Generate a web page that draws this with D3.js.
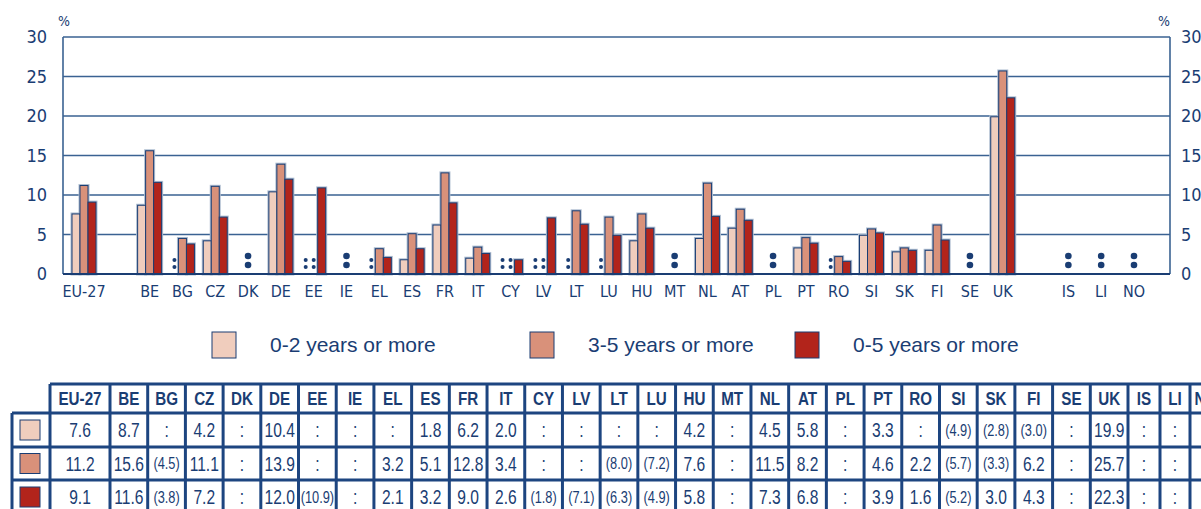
<!DOCTYPE html>
<html lang="en">
<head>
<meta charset="UTF-8">
<title>Childcare by age group</title>
<style>
  body {margin: 0; background: #fff;}
  text {fill: #1a3d73;}
  .tick-label {font-family: "DejaVu Sans Condensed", sans-serif; font-size: 18px;}
  .cat-label {font-family: "DejaVu Sans Condensed", sans-serif; font-size: 16px;}
  .legend-label {font-family: "Liberation Sans", Arial, sans-serif; font-size: 21px;}
  .cell {font-family: "Liberation Sans", Arial, sans-serif; font-size: 19.5px;}
  .cell.small {font-size: 16px;}
  .head {font-family: "Liberation Sans", Arial, sans-serif; font-size: 19px; font-weight: bold;}
</style>
</head>
<body>
<svg id="chart" width="1201" height="509"></svg>
<script src="https://d3js.org/d3.v7.min.js"></script>
<script>

var countries = ["EU-27","BE","BG","CZ","DK","DE","EE","IE","EL","ES","FR","IT","CY","LV","LT","LU",
                 "HU","MT","NL","AT","PL","PT","RO","SI","SK","FI","SE","UK","IS","LI","NO"];

// null = not available (":")
var v02 = [7.6, 8.7, null, 4.2, null, 10.4, null, null, null, 1.8, 6.2, 2.0, null, null, null, null,
           4.2, null, 4.5, 5.8, null, 3.3, null, 4.9, 2.8, 3.0, null, 19.9, null, null, null];
var v35 = [11.2, 15.6, 4.5, 11.1, null, 13.9, null, null, 3.2, 5.1, 12.8, 3.4, null, null, 8.0, 7.2,
           7.6, null, 11.5, 8.2, null, 4.6, 2.2, 5.7, 3.3, 6.2, null, 25.7, null, null, null];
var v05 = [9.1, 11.6, 3.8, 7.2, null, 12.0, 10.9, null, 2.1, 3.2, 9.0, 2.6, 1.8, 7.1, 6.3, 4.9,
           5.8, null, 7.3, 6.8, null, 3.9, 1.6, 5.2, 3.0, 4.3, null, 22.3, null, null, null];

// values shown in brackets in the table (low reliability)
var br02 = ["SI","SK","FI"];
var br35 = ["BG","LT","LU","SI","SK"];
var br05 = ["BG","EE","CY","LV","LT","LU","SI"];

var seriesNames = ["0-2 years or more", "3-5 years or more", "0-5 years or more"];
var colors = ["#f0cdbd", "#d9917a", "#b2241b"];
var yTicks = [0, 5, 10, 15, 20, 25, 30];

// slots along the x axis, with blank gaps after EU-27 and before the EFTA countries
var slots = ["EU-27", "gap1"].concat(countries.slice(1, 28), ["gap2"], countries.slice(28));

var series = [v02, v35, v05];
var brackets = [br02, br35, br05];

var navy = "#1a3d73";
var svg = d3.select("#chart");

var plotL = 63, plotR = 1170, plotT = 37, plotB = 274;

var y = d3.scaleLinear().domain([0, 30]).range([plotB, plotT]);
var x = d3.scalePoint().domain(slots).range([84, 1134]);
var barW = 8;
var offs = [-12, -4, 4];

// grid
svg.append("g").selectAll("line")
  .data(yTicks.filter(function(d) { return d > 0; }))
  .enter().append("line")
  .attr("x1", plotL).attr("x2", plotR)
  .attr("y1", function(d) { return y(d); })
  .attr("y2", function(d) { return y(d); })
  .attr("stroke", "#3a6292").attr("stroke-width", 1.6);

// axes lines
svg.append("line").attr("x1", plotL).attr("x2", plotL).attr("y1", plotT).attr("y2", plotB)
  .attr("stroke", "#3a6292").attr("stroke-width", 1.6);
svg.append("line").attr("x1", plotR).attr("x2", plotR).attr("y1", plotT).attr("y2", plotB)
  .attr("stroke", "#3a6292").attr("stroke-width", 1.6);

// tick labels both sides
svg.append("g").selectAll("text").data(yTicks).enter().append("text")
  .attr("class", "tick-label")
  .attr("x", 47).attr("y", function(d) { return y(d); })
  .attr("dy", "0.35em").attr("text-anchor", "end")
  .text(function(d) { return d; });
svg.append("g").selectAll("text").data(yTicks).enter().append("text")
  .attr("class", "tick-label")
  .attr("x", 1181).attr("y", function(d) { return y(d); })
  .attr("dy", "0.35em")
  .text(function(d) { return d; });
svg.append("text").attr("class", "cat-label").style("font-size", "14px")
  .attr("x", 58).attr("y", 26).text("%");
svg.append("text").attr("class", "cat-label").style("font-size", "14px")
  .attr("x", 1158).attr("y", 26).text("%");

// bars
var bars = [];
var colons = [];
var bigColons = [];
countries.forEach(function(c, i) {
  var allMissing = series.every(function(s) { return s[i] === null; });
  if (allMissing) { bigColons.push(c); return; }
  series.forEach(function(s, k) {
    if (s[i] === null) colons.push({c: c, k: k});
    else bars.push({c: c, k: k, v: s[i]});
  });
});

var barG = svg.append("g");
// soft halo round each bar
barG.selectAll("rect.halo").data(bars).enter().append("rect")
  .attr("class", "halo")
  .attr("x", function(d) { return x(d.c) + offs[d.k]; })
  .attr("y", function(d) { return y(d.v); })
  .attr("width", barW)
  .attr("height", function(d) { return y(0) - y(d.v); })
  .attr("fill", "none").attr("stroke", "#aebdd0").attr("stroke-width", 3);
barG.selectAll("rect.bar").data(bars).enter().append("rect")
  .attr("class", "bar")
  .attr("x", function(d) { return x(d.c) + offs[d.k]; })
  .attr("y", function(d) { return y(d.v); })
  .attr("width", barW)
  .attr("height", function(d) { return y(0) - y(d.v); })
  .attr("fill", function(d) { return colors[d.k]; })
  .attr("stroke", navy).attr("stroke-width", 1);

// baseline
svg.append("line").attr("x1", plotL).attr("x2", plotR).attr("y1", plotB).attr("y2", plotB)
  .attr("stroke", navy).attr("stroke-width", 2);

// ":" markers
colons.forEach(function(d) {
  var cx = x(d.c) + offs[d.k] + barW / 2;
  [14, 7].forEach(function(dy) {
    svg.append("circle").attr("cx", cx).attr("cy", y(0) - dy).attr("r", 2).attr("fill", navy);
  });
});
bigColons.forEach(function(c) {
  [18, 9].forEach(function(dy) {
    svg.append("circle").attr("cx", x(c)).attr("cy", y(0) - dy).attr("r", 3.3).attr("fill", navy);
  });
});

// category labels
svg.append("g").selectAll("text").data(countries).enter().append("text")
  .attr("class", "cat-label")
  .attr("x", function(d) { return x(d); })
  .attr("y", 297).attr("text-anchor", "middle")
  .text(function(d) { return d; });

// legend
var legX = [212, 530, 795];
var lg = svg.append("g").selectAll("g").data(seriesNames).enter().append("g")
  .attr("transform", function(d, i) { return "translate(" + legX[i] + ",332)"; });
lg.append("rect").attr("width", 24).attr("height", 26)
  .attr("fill", function(d, i) { return colors[i]; })
  .attr("stroke", navy).attr("stroke-width", 1);
lg.append("text").attr("class", "legend-label")
  .attr("x", 58).attr("y", 13).attr("dy", "0.35em")
  .text(function(d) { return d; });

// table
var colW = [60];
for (var i = 1; i < 28; i++) colW.push((1128 - 110) / 27);
colW.push(32, 30, 32);
var colX = [50];
colW.forEach(function(w, i) { colX.push(colX[i] + w); });
var rowY = [384, 413, 447, 480, 514];
var narrow = 0.8;

var tg = svg.append("g");
var lineCol = "#1d4580";

function cellText(cls, cx, cy, t) {
  tg.append("text").attr("class", cls)
    .attr("transform", "translate(" + cx + "," + cy + ") scale(" + narrow + ",1)")
    .attr("dy", "0.36em").attr("text-anchor", "middle").text(t);
}

// header row
countries.forEach(function(c, i) {
  cellText("head", colX[i] + colW[i] / 2, (rowY[0] + rowY[1]) / 2, c);
});
// values
series.forEach(function(s, k) {
  var cy = (rowY[k + 1] + rowY[k + 2]) / 2;
  countries.forEach(function(c, i) {
    var v = s[i];
    var isBr = brackets[k].indexOf(c) >= 0;
    var t = v === null ? ":" : (isBr ? "(" + v.toFixed(1) + ")" : v.toFixed(1));
    cellText(isBr ? "cell small" : "cell", colX[i] + colW[i] / 2, cy, t);
  });
  tg.append("rect").attr("x", 20).attr("y", cy - 10).attr("width", 20).attr("height", 20)
    .attr("fill", colors[k]).attr("stroke", navy).attr("stroke-width", 1);
});
// grid lines of table
var tableRight = colX[colX.length - 1];
tg.append("line").attr("x1", 50).attr("x2", tableRight).attr("y1", rowY[0]).attr("y2", rowY[0])
  .attr("stroke", lineCol).attr("stroke-width", 3);
rowY.slice(1).forEach(function(ry) {
  tg.append("line").attr("x1", 12).attr("x2", tableRight).attr("y1", ry).attr("y2", ry)
    .attr("stroke", lineCol).attr("stroke-width", 3);
});
colX.forEach(function(cx) {
  tg.append("line").attr("x1", cx).attr("x2", cx).attr("y1", rowY[0]).attr("y2", rowY[4])
    .attr("stroke", lineCol).attr("stroke-width", 3);
});
tg.append("line").attr("x1", 12).attr("x2", 12).attr("y1", rowY[1]).attr("y2", rowY[4])
  .attr("stroke", lineCol).attr("stroke-width", 3);

</script>
</body>
</html>
